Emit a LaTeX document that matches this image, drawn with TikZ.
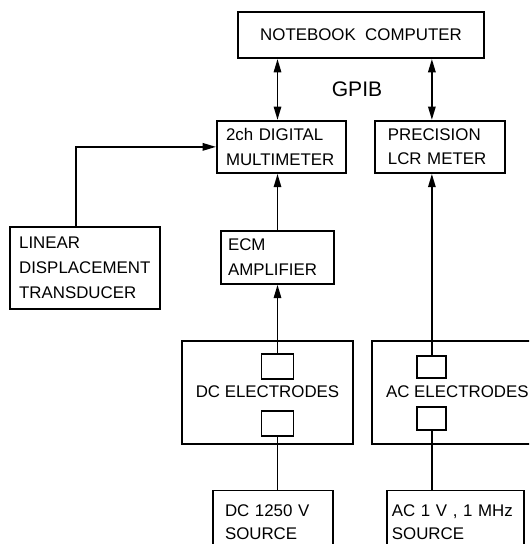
\documentclass[tikz,border=0pt]{standalone}
\usepackage{fontspec}
\setsansfont{Liberation Sans}
\usetikzlibrary{arrows.meta, positioning, calc}
\definecolor{cLine}{HTML}{000000}
\definecolor{cText}{HTML}{000000}

\begin{document}
\begin{tikzpicture}[
    font=\sffamily\fontsize{14.4}{21}\selectfont\color{cText},
    >={Triangle[length=0.4cm, width=0.22cm]},
    % Box styles
    box/.style={rectangle, draw=cLine, line width=1.6pt, align=left, inner xsep=0.27cm, inner ysep=0pt},
    main_box/.style={rectangle, draw=cLine, line width=1.6pt, align=center, minimum width=7.38cm, minimum height=1.38cm},
    elec_box/.style={rectangle, draw=cLine, line width=1.6pt, align=center, minimum width=5.13cm, minimum height=3.09cm},
    pad_box/.style={rectangle, draw=cLine, line width=1.6pt, minimum width=0.96cm, minimum height=0.75cm, inner sep=0pt},
    src_box/.style={box, minimum height=1.9cm, font=\sffamily\fontsize{14.4}{20}\selectfont},
    label_text/.style={font=\sffamily\fontsize{18}{20}\selectfont},
    % Connector styles
    wire/.style={line width=1.6pt, color=cLine},
    arrow/.style={->, wire}
]

\useasboundingbox (0,0) rectangle (15.87,-16.32);
\clip (0,0) rectangle (15.87,-16.32);

% --- COMPUTER ---
\node[main_box] (nb) at (10.83,-1.05) {NOTEBOOK\ \ COMPUTER};

% --- METERS ---
\node[box, text width=3.33cm, minimum height=1.56cm, below=1.83cm of nb, xshift=-2.385cm] (dmm) {2ch DIGITAL\\MULTIMETER};
\node[box, text width=3.12cm, inner xsep=0.39cm, minimum height=1.56cm, right=0.81cm of dmm] (lcr) {PRECISION\\LCR METER};

\node[label_text, xshift=-0.12cm] (gpib) at ($(nb.south)!0.5!(nb.south |- dmm.north)$) {GPIB};

% --- AMPLIFIER / TRANSDUCER ---
\node[box, text width=2.97cm, inner xsep=0.21cm, minimum height=1.59cm, below=1.68cm of dmm, xshift=-0.12cm] (ecm) {ECM\\AMPLIFIER};
\node[box, text width=3.96cm, minimum height=2.46cm, left=1.77cm of ecm, yshift=-0.315cm] (ldt) {LINEAR\\DISPLACEMENT\\TRANSDUCER};

% --- ELECTRODES ---
\node[elec_box, below=1.65cm of ecm, xshift=-0.3cm] (dcel) {DC ELECTRODES};
\node[elec_box, right=0.51cm of dcel] (acel) {AC ELECTRODES};

\node[pad_box, below=0.39cm of dcel.north, xshift=0.3cm] (dc_top) {};
\node[pad_box, above=0.24cm of dcel.south, xshift=0.3cm] (dc_bot) {};
\node[pad_box, minimum width=0.87cm, minimum height=0.68cm, below=0.45cm of acel.north, xshift=-0.765cm] (ac_top) {};
\node[pad_box, minimum width=0.87cm, minimum height=0.68cm, above=0.42cm of acel.south, xshift=-0.765cm] (ac_bot) {};

% --- SOURCES ---
\node[src_box, text width=2.88cm, inner xsep=0.36cm, below=1.35cm of dcel, xshift=0.165cm] (dcsrc) {DC 1250 V\\SOURCE};
\node[src_box, text width=3.81cm, inner xsep=0.15cm, below=1.35cm of acel, xshift=-0.06cm] (acsrc) {AC 1 V , 1 MHz\\SOURCE};

% --- CONNECTORS ---
\draw[<->, wire] (nb.south -| ecm) -- (dmm.north -| ecm);
\draw[<->, wire] (nb.south -| ac_top) -- (lcr.north -| ac_top);
\draw[arrow] ([xshift=-0.27cm]ldt.north) |- (dmm.west);
\draw[arrow] (ecm.north) -- (dmm.south -| ecm);
\draw[arrow] (dc_top.north) -- (ecm.south);
\draw[wire] (dc_bot.south) -- (dcsrc.north -| dc_bot);
\draw[arrow] (ac_top.north) -- (lcr.south -| ac_top);
\draw[wire] (ac_bot.south) -- (acsrc.north -| ac_bot);

\end{tikzpicture}
\end{document}
